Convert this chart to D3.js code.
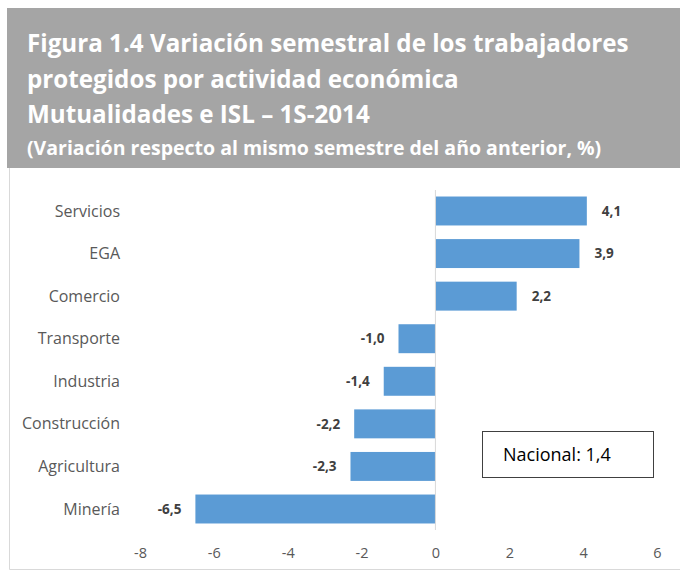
<!DOCTYPE html>
<html>
<head>
<meta charset="utf-8">
<script src="https://cdn.jsdelivr.net/npm/d3@7"></script>
<style>
  body { margin: 0; background: #fff; }
  svg { display: block; }
</style>
</head>
<body>
<svg id="chart" width="680" height="571"></svg>
<script>
const titleLines = [
    "Figura 1.4 Variación semestral de los trabajadores",
    "protegidos por actividad económica",
    "Mutualidades e ISL – 1S-2014"
];
const subtitle = "(Variación respecto al mismo semestre del año anterior, %)";
const sectors = ["Servicios", "EGA", "Comercio", "Transporte", "Industria", "Construcción", "Agricultura", "Minería"];
const values = [4.1, 3.9, 2.2, -1.0, -1.4, -2.2, -2.3, -6.5];
const xTicks = [-8, -6, -4, -2, 0, 2, 4, 6];
const nationalLabel = "Nacional: 1,4";

const width = 680, height = 571;
const margins = { top: 188, right: 23, bottom: 39, left: 140 };
const font = "'Open Sans', 'Noto Sans', sans-serif";
const svg = d3.select("#chart");

// header band
svg.append("rect")
    .attr("x", 7).attr("y", 8)
    .attr("width", width - 7).attr("height", 160)
    .attr("fill", "#a5a5a5");

const header = svg.append("g").attr("font-family", font).attr("fill", "#fff").attr("font-weight", "bold");
header.selectAll("text.title")
    .data(titleLines)
    .enter()
    .append("text")
    .attr("class", "title")
    .attr("x", 27)
    .attr("y", (d, i) => 52 + i * 35.5)
    .attr("font-size", 24.2)
    .text(d => d);
header.append("text")
    .attr("x", 27).attr("y", 155)
    .attr("font-size", 19.5)
    .text(subtitle);

// panel border
svg.append("path")
    .attr("d", `M9.5,168 V569.5 H${width}`)
    .attr("fill", "none")
    .attr("stroke", "#d9d9d9");

// scales
const x = d3.scaleLinear()
    .domain([-8, 6])
    .range([margins.left, width - margins.right]);
const y = d3.scaleBand()
    .domain(sectors)
    .range([margins.top, height - margins.bottom])
    .paddingInner(0.32)
    .paddingOuter(0.2);

// bars
svg.append("g")
    .selectAll("rect")
    .data(values)
    .enter()
    .append("rect")
    .attr("x", d => x(Math.min(0, d)))
    .attr("y", (d, i) => y(sectors[i]))
    .attr("width", d => Math.abs(x(d) - x(0)))
    .attr("height", y.bandwidth())
    .attr("fill", "#5b9bd5");

// zero line
svg.append("line")
    .attr("x1", x(0)).attr("x2", x(0))
    .attr("y1", 190).attr("y2", 530)
    .attr("stroke", "#d9d9d9");

// category labels
svg.append("g")
    .selectAll("text")
    .data(sectors)
    .enter()
    .append("text")
    .attr("x", 120)
    .attr("y", d => y(d) + y.bandwidth() / 2)
    .attr("dy", "0.35em")
    .attr("text-anchor", "end")
    .attr("font-family", font)
    .attr("font-size", 16)
    .attr("fill", "#595959")
    .text(d => d);

// value labels
const fmt = v => v.toFixed(1).replace(".", ",");
svg.append("g")
    .selectAll("text")
    .data(values)
    .enter()
    .append("text")
    .attr("x", d => d >= 0 ? x(d) + 15 : x(d) - 14)
    .attr("y", (d, i) => y(sectors[i]) + y.bandwidth() / 2)
    .attr("dy", "0.35em")
    .attr("text-anchor", d => d >= 0 ? "start" : "end")
    .attr("font-family", font)
    .attr("font-size", 13.5)
    .attr("font-weight", "bold")
    .attr("fill", "#404040")
    .text(fmt);

// x axis
const xAxis = d3.axisBottom(x).tickValues(xTicks).tickSize(0).tickPadding(0)
    .tickFormat(d => String(d));
const axisG = svg.append("g")
    .attr("transform", `translate(0, 558)`)
    .call(xAxis);
axisG.select(".domain").remove();
axisG.selectAll("text")
    .attr("font-family", font)
    .attr("font-size", 14.5)
    .attr("fill", "#595959")
    .attr("dy", "0");

// national box
svg.append("rect")
    .attr("x", 482.5).attr("y", 431.5)
    .attr("width", 171).attr("height", 46)
    .attr("fill", "#fff")
    .attr("stroke", "#404040");
svg.append("text")
    .attr("x", 503).attr("y", 461)
    .attr("font-family", font)
    .attr("font-size", 18)
    .attr("fill", "#000")
    .text(nationalLabel);
</script>
</body>
</html>
